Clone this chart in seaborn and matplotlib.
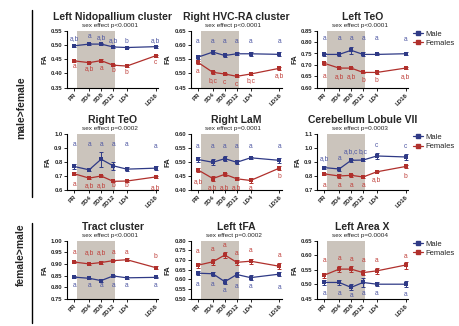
import numpy as np
import pandas as pd
import matplotlib
matplotlib.use("Agg")
import matplotlib.pyplot as plt
from matplotlib.lines import Line2D
import seaborn as sns

sns.set_style("ticks")
plt.rcParams['font.family'] = ['Liberation Sans', 'DejaVu Sans']

# ---------------- data ----------------
timepoints = ["PR", "SD4", "SD8", "SD12", "LD4", "LD16"]
time_pos = [0, 1.25, 2.25, 3.25, 4.4, 6.8]

titles = ["Left Nidopallium cluster", "Right HVC-RA cluster", "Left TeO",
          "Right TeO", "Right LaM", "Cerebellum Lobule VII",
          "Tract cluster", "Left tFA", "Left Area X"]
pvals = ["sex effect p<0.0001", "sex effect p<0.0001", "sex effect p<0.0001",
         "sex effect p=0.0002", "sex effect p=0.0001", "sex effect p=0.0003",
         "sex effect p<0.0001", "sex effect p=0.0002", "sex effect p=0.0004"]

# mean FA
nido_m = [0.497, 0.503, 0.503, 0.493, 0.491, 0.494]
nido_f = [0.444, 0.438, 0.445, 0.429, 0.426, 0.462]
hvc_m = [0.557, 0.575, 0.563, 0.569, 0.569, 0.567]
hvc_f = [0.539, 0.504, 0.498, 0.490, 0.498, 0.518]
lteo_m = [0.746, 0.746, 0.764, 0.746, 0.746, 0.749]
lteo_f = [0.707, 0.686, 0.686, 0.667, 0.667, 0.686]
rteo_m = [0.768, 0.744, 0.820, 0.773, 0.749, 0.756]
rteo_f = [0.716, 0.685, 0.700, 0.662, 0.664, 0.693]
lam_m = [0.509, 0.499, 0.512, 0.499, 0.515, 0.506]
lam_f = [0.472, 0.441, 0.456, 0.440, 0.434, 0.478]
cereb_m = [0.860, 0.850, 0.912, 0.914, 0.943, 0.936]
cereb_f = [0.815, 0.800, 0.805, 0.793, 0.830, 0.868]
tract_m = [0.843, 0.838, 0.828, 0.848, 0.840, 0.842]
tract_f = [0.908, 0.900, 0.906, 0.914, 0.918, 0.884]
tfa_m = [0.632, 0.629, 0.588, 0.625, 0.609, 0.627]
tfa_f = [0.673, 0.691, 0.726, 0.688, 0.694, 0.668]
areax_m = [0.506, 0.506, 0.489, 0.506, 0.500, 0.500]
areax_f = [0.531, 0.552, 0.552, 0.540, 0.546, 0.566]

# SEM
nido_m_se = [0.003, 0.003, 0.004, 0.003, 0.003, 0.003]
nido_f_se = [0.003, 0.003, 0.004, 0.003, 0.004, 0.003]
hvc_m_se = [0.006, 0.008, 0.007, 0.006, 0.007, 0.007]
hvc_f_se = [0.006, 0.005, 0.005, 0.004, 0.005, 0.006]
lteo_m_se = [0.008, 0.006, 0.015, 0.009, 0.004, 0.006]
lteo_f_se = [0.007, 0.005, 0.006, 0.003, 0.006, 0.006]
rteo_m_se = [0.015, 0.010, 0.055, 0.030, 0.015, 0.012]
rteo_f_se = [0.012, 0.008, 0.009, 0.005, 0.006, 0.010]
lam_m_se = [0.008, 0.010, 0.010, 0.007, 0.004, 0.008]
lam_f_se = [0.008, 0.008, 0.005, 0.005, 0.010, 0.008]
cereb_m_se = [0.010, 0.014, 0.010, 0.010, 0.020, 0.020]
cereb_f_se = [0.010, 0.014, 0.012, 0.006, 0.004, 0.014]
tract_m_se = [0.003, 0.003, 0.007, 0.003, 0.004, 0.003]
tract_f_se = [0.004, 0.005, 0.005, 0.003, 0.006, 0.006]
tfa_m_se = [0.010, 0.010, 0.012, 0.014, 0.012, 0.010]
tfa_f_se = [0.012, 0.015, 0.015, 0.012, 0.012, 0.015]
areax_m_se = [0.010, 0.010, 0.010, 0.015, 0.007, 0.010]
areax_f_se = [0.008, 0.010, 0.010, 0.010, 0.010, 0.012]

# significance letters
nido_m_let = ["a,b", "a", "a,b", "a,b", "b", "a,b"]
nido_f_let = ["a", "a,b", "a", "b", "b", "c"]
hvc_m_let = ["a"] * 6
hvc_f_let = ["a", "b,c", "c", "c", "b,c", "a,b"]
lteo_m_let = ["a"] * 6
lteo_f_let = ["a", "a,b", "a,b", "b", "b", "a,b"]
rteo_m_let = ["a"] * 6
rteo_f_let = ["a", "a,b", "a,b", "b", "b", "a,b"]
lam_m_let = ["a"] * 6
lam_f_let = ["a,b", "a,b", "a,b", "a,b", "a", "b"]
cereb_m_let = ["a,b", "a", "a,b,c", "b,c", "c", "c"]
cereb_f_let = ["a", "a", "a", "a", "a,b", "b"]
tract_m_let = ["a"] * 6
tract_f_let = ["a", "a,b", "a,b", "a", "a", "b"]
tfa_m_let = ["a"] * 6
tfa_f_let = ["a"] * 6
areax_m_let = ["a"] * 6
areax_f_let = ["a"] * 6

# letter heights (text placement)
nido_m_ly = [0.523, 0.529, 0.526, 0.515, 0.512, 0.515]
nido_f_ly = [0.425, 0.417, 0.419, 0.410, 0.402, 0.437]
hvc_m_ly = [0.611] * 6
hvc_f_ly = [0.506, 0.474, 0.468, 0.462, 0.474, 0.492]
lteo_m_ly = [0.816, 0.816, 0.816, 0.816, 0.816, 0.811]
lteo_f_ly = [0.649, 0.648, 0.648, 0.630, 0.630, 0.648]
rteo_m_ly = [0.922, 0.922, 0.922, 0.922, 0.922, 0.910]
rteo_f_ly = [0.636, 0.632, 0.632, 0.632, 0.632, 0.621]
lam_m_ly = [0.555] * 6
lam_f_ly = [0.430, 0.408, 0.408, 0.408, 0.405, 0.450]
cereb_m_ly = [0.926, 0.926, 0.978, 0.978, 1.020, 1.013]
cereb_f_ly = [0.733, 0.733, 0.733, 0.733, 0.776, 0.800]
tract_m_ly = [0.805] * 6
tract_f_ly = [0.950, 0.950, 0.950, 0.950, 0.950, 0.930]
tfa_m_ly = [0.576, 0.571, 0.541, 0.564, 0.564, 0.559]
tfa_f_ly = [0.744, 0.752, 0.774, 0.735, 0.747, 0.726]
areax_m_ly = [0.468, 0.468, 0.462, 0.468, 0.468, 0.466]
areax_f_ly = [0.580, 0.588, 0.585, 0.580, 0.582, 0.594]

ylims = [(0.35, 0.55), (0.45, 0.65), (0.60, 0.85),
         (0.6, 1.0), (0.40, 0.60), (0.7, 1.1),
         (0.75, 1.00), (0.50, 0.80), (0.45, 0.65)]
ysteps = [0.05, 0.05, 0.05, 0.1, 0.05, 0.1, 0.05, 0.05, 0.05]
ydec = [2, 2, 2, 1, 2, 1, 2, 2, 2]

panels = [
    (nido_m, nido_f, nido_m_se, nido_f_se, nido_m_let, nido_f_let, nido_m_ly, nido_f_ly),
    (hvc_m, hvc_f, hvc_m_se, hvc_f_se, hvc_m_let, hvc_f_let, hvc_m_ly, hvc_f_ly),
    (lteo_m, lteo_f, lteo_m_se, lteo_f_se, lteo_m_let, lteo_f_let, lteo_m_ly, lteo_f_ly),
    (rteo_m, rteo_f, rteo_m_se, rteo_f_se, rteo_m_let, rteo_f_let, rteo_m_ly, rteo_f_ly),
    (lam_m, lam_f, lam_m_se, lam_f_se, lam_m_let, lam_f_let, lam_m_ly, lam_f_ly),
    (cereb_m, cereb_f, cereb_m_se, cereb_f_se, cereb_m_let, cereb_f_let, cereb_m_ly, cereb_f_ly),
    (tract_m, tract_f, tract_m_se, tract_f_se, tract_m_let, tract_f_let, tract_m_ly, tract_f_ly),
    (tfa_m, tfa_f, tfa_m_se, tfa_f_se, tfa_m_let, tfa_f_let, tfa_m_ly, tfa_f_ly),
    (areax_m, areax_f, areax_m_se, areax_f_se, areax_m_let, areax_f_let, areax_m_ly, areax_f_ly),
]

# ---------------- style ----------------
MALE = "#2f3a86"
FEMALE = "#b0302c"
MALE_TXT = "#4f58a3"
FEMALE_TXT = "#c0413c"
SHADE = "#cbc4bc"

W, H = 460, 326
fig = plt.figure(figsize=(W / 100, H / 100), dpi=100)

col_left = [67, 190.7, 317]
ax_w = 91
row_top = [30.7, 134, 240.7]
row_h = [57, 56, 58]

for i, (m, f, mse, fse, mlet, flet, mly, fly) in enumerate(panels):
    r, c = divmod(i, 3)
    ax = fig.add_axes([col_left[c] / W, 1 - (row_top[r] + row_h[r]) / H,
                       ax_w / W, row_h[r] / H])
    ax.axvspan(0.25, 3.45, color=SHADE, lw=0, zorder=0)

    df = pd.DataFrame({
        "pos": time_pos * 2,
        "FA": list(m) + list(f),
        "sex": ["Male"] * 6 + ["Females"] * 6,
    })
    sns.lineplot(data=df, x="pos", y="FA", hue="sex",
                 palette={"Male": MALE, "Females": FEMALE},
                 marker="s", markersize=2.6, markeredgewidth=0,
                 linewidth=0.9, legend=False, ax=ax, zorder=3)
    ax.errorbar(time_pos, m, yerr=mse, fmt="none", ecolor=MALE,
                elinewidth=0.7, capsize=1.3, capthick=0.7, zorder=4)
    ax.errorbar(time_pos, f, yerr=fse, fmt="none", ecolor=FEMALE,
                elinewidth=0.7, capsize=1.3, capthick=0.7, zorder=4)

    for x, t, y in zip(time_pos, mlet, mly):
        ax.text(x, y, t, color=MALE_TXT, fontsize=4.8, ha="center", va="center")
    for x, t, y in zip(time_pos, flet, fly):
        ax.text(x, y, t, color=FEMALE_TXT, fontsize=4.8, ha="center", va="center")

    lo, hi = ylims[i]
    ax.set_ylim(lo, hi)
    ticks = np.round(np.arange(lo, hi + 1e-9, ysteps[i]), 3)
    ax.set_yticks(ticks)
    ax.set_yticklabels([f"{t:.{ydec[i]}f}" for t in ticks],
                       fontsize=4.2, fontweight="bold")
    ax.set_xlim(-0.6, 7.0)
    ax.set_xticks(time_pos)
    ax.set_xticklabels(timepoints, rotation=45, ha="right",
                       rotation_mode="anchor", fontsize=4.4, fontweight="bold")
    ax.set_xlabel("")
    ax.set_ylabel("FA", fontsize=5.5, fontweight="bold", labelpad=2)
    ax.tick_params(axis="both", length=2, width=0.6, pad=1.2, color="black")
    for s in ["top", "right"]:
        ax.spines[s].set_visible(False)
    for s in ["left", "bottom"]:
        ax.spines[s].set_linewidth(0.8)
        ax.spines[s].set_color("black")

    ax.annotate(titles[i], xy=(0.5, 1), xycoords="axes fraction",
                xytext=(0, 9.8), textcoords="offset points",
                ha="center", va="center", fontsize=7.5, fontweight="bold")
    ax.annotate(pvals[i], xy=(0.47, 1), xycoords="axes fraction",
                xytext=(0, 4.0), textcoords="offset points",
                ha="center", va="center", fontsize=4.6)

    if c == 2:
        handles = [Line2D([], [], color=MALE, marker="s", ms=2.4, lw=0.9),
                   Line2D([], [], color=FEMALE, marker="s", ms=2.4, lw=0.9)]
        ax.legend(handles, ["Male", "Females"], loc="upper left",
                  bbox_to_anchor=(1.02, 1.06), frameon=False, fontsize=5.5,
                  handlelength=1.3, handletextpad=0.4, labelspacing=0.25,
                  borderaxespad=0)

# side group labels and brackets
fig.text(21 / W, 1 - 108 / H, "male>female", rotation=90, ha="center",
         va="center", fontsize=7.5, fontweight="bold")
fig.text(21 / W, 1 - 255 / H, "female>male", rotation=90, ha="center",
         va="center", fontsize=7.5, fontweight="bold")
fig.add_artist(Line2D([32 / W, 32 / W], [1 - 10 / H, 1 - 197 / H],
                      color="black", lw=1.0))
fig.add_artist(Line2D([32 / W, 32 / W], [1 - 223 / H, 1 - 323 / H],
                      color="black", lw=1.0))

fig.savefig("out.png", dpi=100, facecolor="white")
